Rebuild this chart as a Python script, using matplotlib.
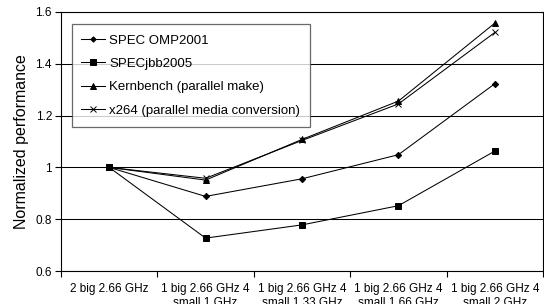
import matplotlib
matplotlib.use("Agg")
import matplotlib.pyplot as plt
import numpy as np

plt.rcParams['font.family'] = ['Liberation Sans', 'DejaVu Sans']

categories = ["2 big 2.66 GHz",
              "1 big 2.66 GHz 4\nsmall 1 GHz",
              "1 big 2.66 GHz 4\nsmall 1.33 GHz",
              "1 big 2.66 GHz 4\nsmall 1.66 GHz",
              "1 big 2.66 GHz 4\nsmall 2 GHz"]
spec_omp = [1.0, 0.888, 0.956, 1.049, 1.323]
spec_jbb = [1.0, 0.727, 0.778, 0.852, 1.063]
kernbench = [1.0, 0.951, 1.108, 1.256, 1.557]
x264 = [1.0, 0.958, 1.104, 1.245, 1.521]

series = [
    ("SPEC OMP2001", spec_omp, "D", 3.2),
    ("SPECjbb2005", spec_jbb, "s", 4.6),
    ("Kernbench (parallel make)", kernbench, "^", 4.6),
    ("x264 (parallel media conversion)", x264, "x", 5.0),
]

fig = plt.figure(figsize=(5.44, 3.04), dpi=100)
ax = fig.add_axes([61/544, (304-271)/304, 482/544, 259/304])

x = np.arange(len(categories))
for label, vals, m, ms in series:
    ax.plot(x, vals, color="black", linewidth=0.75, marker=m, markersize=ms,
            markerfacecolor="black", markeredgecolor="black", markeredgewidth=0.7,
            label=label)

ax.set_xlim(-0.5, len(categories) - 0.5)
ax.set_ylim(0.6, 1.6)
ax.set_yticks([0.6, 0.8, 1.0, 1.2, 1.4, 1.6])
ax.set_yticklabels(["0.6", "0.8", "1", "1.2", "1.4", "1.6"])
ax.yaxis.grid(True, color="black", linewidth=0.75)
ax.set_axisbelow(True)

ax.set_xticks(x)
ax.set_xticklabels(categories, fontsize=8.5)
ax.set_xticks(np.arange(-0.5, len(categories), 1.0), minor=True)
ax.tick_params(axis="x", which="major", length=0, pad=8.8)
ax.tick_params(axis="x", which="minor", length=4, width=0.8, direction="out")
ax.tick_params(axis="y", length=4.5, width=0.8, direction="out", labelsize=8.5, pad=2)

for s in ax.spines.values():
    s.set_linewidth(0.8)
    s.set_color("black")

ax.set_ylabel("Normalized performance", fontsize=11.5, labelpad=5)

leg = ax.legend(loc="upper left", bbox_to_anchor=(0.022, 0.952), fontsize=9.5,
                frameon=True, fancybox=False, edgecolor="#444444",
                handlelength=1.8, handletextpad=0.3, labelspacing=0.85,
                borderpad=0.75, borderaxespad=0.0, markerscale=0.85)
leg.get_frame().set_linewidth(0.9)

fig.savefig("out.png", dpi=100)
